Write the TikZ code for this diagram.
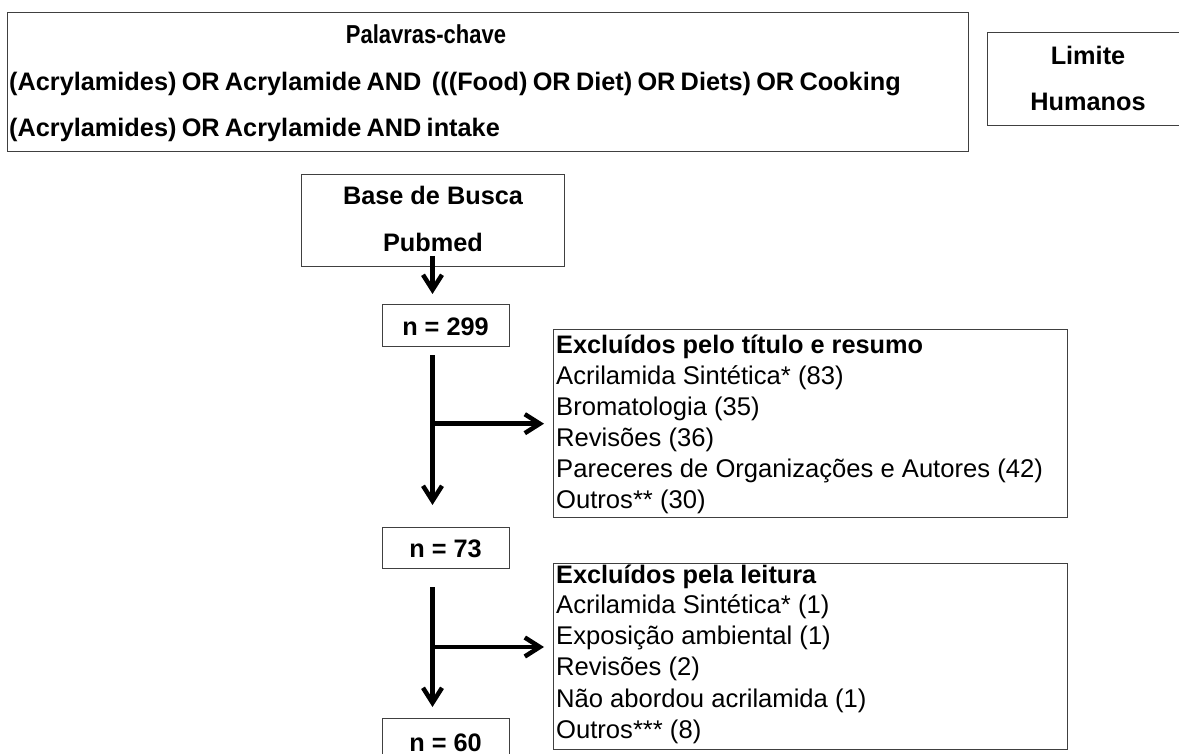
\documentclass[tikz,border=0pt]{standalone}
\usepackage{fontspec}
\setmainfont{Liberation Sans}
\newfontfamily\kwfont{Liberation Sans}[WordSpace=0.75]
\usetikzlibrary{arrows.meta,calc}
\begin{document}
\begin{tikzpicture}[x=1pt,y=-1pt,
  box/.style={draw=black!75,line width=1.4pt,inner sep=0pt,anchor=north west},
  txt/.style={inner sep=0pt},
  kh/.style={txt,font=\fontsize{22}{26}\selectfont\bfseries},
  kw/.style={txt,font=\kwfont\fontsize{25.3}{30}\selectfont\bfseries},
  bt/.style={txt,font=\fontsize{25.3}{30}\selectfont\bfseries},
  rt/.style={txt,anchor=base west,font=\fontsize{25.6}{30}\selectfont},
  arr/.style={line width=4.5pt,-{Straight Barb[length=15pt,width=19pt]}}]
\useasboundingbox (0,0) rectangle (1179,754);
\clip (0,0) rectangle (1179,754);
% boxes
\node[box,minimum width=961pt,minimum height=139pt] (top) at (7,12) {};
\node[box,minimum width=200pt,minimum height=93pt] (lim) at (987,32) {};
\node[box,minimum width=263pt,minimum height=92pt] (base) at (301,174) {};
\node[box,minimum width=127pt,minimum height=42pt] (n299) at (382,304) {};
\node[box,minimum width=127pt,minimum height=41pt] (n73) at (382,527) {};
\node[box,minimum width=127pt,minimum height=60pt] (n60) at (382,718) {};
\node[box,minimum width=514pt,minimum height=188pt] (box1) at (553,329) {};
\node[box,minimum width=514pt,minimum height=186pt] (box2) at (553,563) {};
% top texts
\node[kh,anchor=base] (kw1) at (426,44) {\scalebox{1}[1.18]{Palavras-chave}};
\node[kw,anchor=base west] (kw2) at (9,91) {(Acrylamides) OR Acrylamide AND\ \ (((Food) OR Diet) OR Diets) OR Cooking};
\node[kw,anchor=base west] (kw3) at (9,137) {(Acrylamides) OR Acrylamide AND intake};
\node[bt,anchor=base] (lim1) at (1088,65) {Limite};
\node[bt,anchor=base] (lim2) at (1088,111) {Humanos};
\node[bt,anchor=base] (base1) at (433,205) {Base de Busca};
\node[bt,anchor=base] (base2) at (433,252) {Pubmed};
\node[bt,anchor=base] (t299) at (445.5,335) {n = 299};
\node[bt,anchor=base] (t73) at (445.5,557) {n = 73};
\node[bt,anchor=base] (t60) at (445.5,751) {n = 60};
% exclusion box 1
\node[bt,anchor=base west] (e1h) at (556,353) {Excluídos pelo título e resumo};
\node[rt] (e1a) at (556,384) {Acrilamida Sintética* (83)};
\node[rt] (e1b) at (556,415) {Bromatologia (35)};
\node[rt] (e1c) at (556,446) {Revisões (36)};
\node[rt] (e1d) at (556,477) {Pareceres de Organizações e Autores (42)};
\node[rt] (e1e) at (556,508) {Outros** (30)};
% exclusion box 2
\node[bt,anchor=base west] (e2h) at (556,583) {Excluídos pela leitura};
\node[rt] (e2a) at (556,613) {Acrilamida Sintética* (1)};
\node[rt] (e2b) at (556,644) {Exposição ambiental (1)};
\node[rt] (e2c) at (556,675) {Revisões (2)};
\node[rt] (e2d) at (556,707) {Não abordou acrilamida (1)};
\node[rt] (e2e) at (556,738) {Outros*** (8)};
% connectors
\coordinate (c0) at (432.5,256);
\coordinate (s1) at (432.5,355);
\coordinate (s2) at (432.5,587);
\coordinate (br2) at (432.5,647);
\draw[arr,shorten >=10pt] (c0) -- (c0 |- n299.north);
\draw[arr,shorten >=22pt] (s1) -- (s1 |- n73.north);
\draw[arr,shorten >=9pt] (s1 |- box1.west) -- (box1.west);
\draw[arr,shorten >=11pt] (s2) -- (s2 |- n60.north);
\draw[arr,shorten >=9pt] (br2) -- (br2 -| box2.west);
\end{tikzpicture}
\end{document}
